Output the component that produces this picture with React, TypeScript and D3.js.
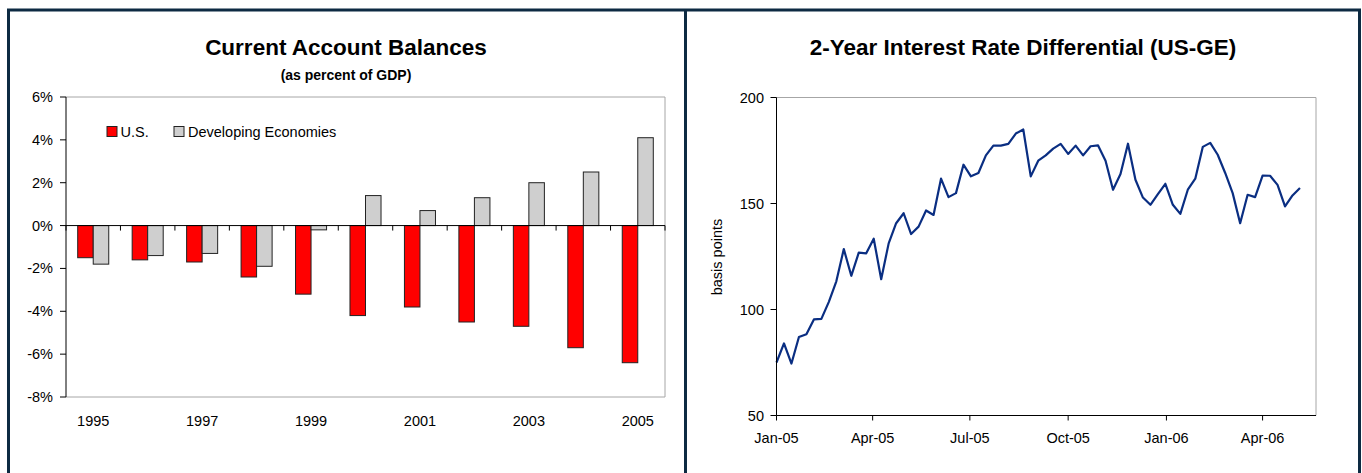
import * as d3 from "d3";

// left chart: current account balances, % of GDP
const years = ["1995", "1996", "1997", "1998", "1999", "2000", "2001", "2002", "2003", "2004", "2005"];
const usBalance = [-1.5, -1.6, -1.7, -2.4, -3.2, -4.2, -3.8, -4.5, -4.7, -5.7, -6.4];
const devBalance = [-1.8, -1.4, -1.3, -1.9, -0.2, 1.4, 0.7, 1.3, 2.0, 2.5, 4.1];
const yearLabels = ["1995", "1997", "1999", "2001", "2003", "2005"];
const pctTicks = [-8, -6, -4, -2, 0, 2, 4, 6];

// right chart: weekly 2-year differential, basis points
const spreadBp = [
  75, 84, 74.5, 87, 88.3, 95.3, 95.6, 103.6, 113.3, 128.5, 115.9, 126.8, 126.5, 133.4, 114.3, 131.2, 140.7, 145.4,
  135.6, 139.1, 146.7, 144.6, 161.7, 153, 154.9, 168.3, 162.8, 164.4, 172.7, 177.3, 177.3, 178.1, 183, 184.9,
  162.8, 170.2, 172.7, 175.9, 178.1, 173.4, 177.3, 172.7, 177, 177.4, 170.2, 156.5, 163.9, 178.2, 161.2, 152.8,
  149.4, 154.4, 159.3, 149.4, 145.1, 156.5, 161.7, 176.7, 178.6, 173, 164.4, 154.9, 140.7, 154.1, 153, 163.2,
  163.1, 158.8, 148.6, 153.8, 157.3,
];
const bpTicks = [50, 100, 150, 200];
const monthTicks = ["2005-01-01", "2005-04-01", "2005-07-01", "2005-10-01", "2006-01-01", "2006-04-01"];

const FONT = "'Liberation Sans', Arial, sans-serif";
const FRAME = "#0d2a42";
const BORDER = "#a6a6a6";

const LeftChart = () => {
  const left = 66, right = 665, top = 97, bottom = 397;
  const x = d3.scaleBand().domain(years).range([left, right]).paddingInner(0.43).paddingOuter(0.215);
  const x1 = d3.scaleBand().domain(["us", "dev"]).range([0, x.bandwidth()]);
  const y = d3.scaleLinear().domain([-8, 6]).range([bottom, top]);
  const step = x.step();
  const bounds = d3.range(years.length + 1).map((i) => left + i * step);

  const bar = (v: number, yr: string, key: string, fill: string) => {
    const x0 = (x(yr) ?? 0) + (x1(key) ?? 0);
    return (
      <rect key={key + yr} x={x0} y={Math.min(y(v), y(0))} width={x1.bandwidth()}
        height={Math.abs(y(v) - y(0))} fill={fill} stroke="#222" strokeWidth={1} />
    );
  };

  return (
    <g fontFamily={FONT}>
      <text x={346} y={55} textAnchor="middle" fontSize={22.5} fontWeight="bold">Current Account Balances</text>
      <text x={346} y={80} textAnchor="middle" fontSize={14} fontWeight="bold">(as percent of GDP)</text>

      <line x1={left} x2={right} y1={top} y2={top} stroke={BORDER} />
      <line x1={right} x2={right} y1={top} y2={bottom} stroke={BORDER} />
      <line x1={left} x2={right} y1={bottom} y2={bottom} stroke={BORDER} />

      {years.map((yr, i) => bar(usBalance[i], yr, "us", "#ff0000"))}
      {years.map((yr, i) => bar(devBalance[i], yr, "dev", "#cfcfcf"))}

      <line x1={left} x2={right} y1={y(0)} y2={y(0)} stroke="#000" />
      {bounds.map((bx) => (
        <line key={bx} x1={bx} x2={bx} y1={y(0)} y2={y(0) + 5} stroke="#000" />
      ))}
      <line x1={left} x2={left} y1={top} y2={bottom} stroke="#000" />
      {pctTicks.map((t) => (
        <g key={t}>
          <line x1={left - 6} x2={left} y1={y(t)} y2={y(t)} stroke="#000" />
          <text x={53} y={y(t) + 5} textAnchor="end" fontSize={14.5}>{t + "%"}</text>
        </g>
      ))}
      {yearLabels.map((yr) => (
        <text key={yr} x={(x(yr) ?? 0) + x.bandwidth() / 2} y={426} textAnchor="middle" fontSize={14.5}>{yr}</text>
      ))}

      <rect x={107} y={126.5} width={10} height={10} fill="#ff0000" stroke="#222" />
      <text x={120.5} y={136.5} fontSize={14.5}>U.S.</text>
      <rect x={174} y={126.5} width={10} height={10} fill="#cfcfcf" stroke="#222" />
      <text x={188} y={136.5} fontSize={14.5}>Developing Economies</text>
    </g>
  );
};

const RightChart = () => {
  const left = 776.5, right = 1316, top = 97.5, bottom = 415.5;
  const start = new Date(2005, 0, 1);
  const dates = spreadBp.map((_, i) => d3.timeDay.offset(start, 7 * i));
  const x = d3.scaleTime().domain([start, new Date(2006, 4, 21)]).range([left, right]);
  const y = d3.scaleLinear().domain([50, 200]).range([bottom, top]);
  const line = d3.line<number>().x((_, i) => x(dates[i])).y((d) => y(d));
  const fmt = d3.timeFormat("%b-%y");

  return (
    <g fontFamily={FONT}>
      <text x={1023} y={55} textAnchor="middle" fontSize={22.5} fontWeight="bold">2-Year Interest Rate Differential (US-GE)</text>

      <line x1={left} x2={right} y1={top} y2={top} stroke={BORDER} />
      <line x1={right} x2={right} y1={top} y2={bottom} stroke={BORDER} />

      <path d={line(spreadBp) ?? ""} fill="none" stroke="#0a2e82" strokeWidth={2.2} strokeLinejoin="round" />

      <line x1={left} x2={left} y1={top} y2={bottom} stroke="#000" />
      <line x1={left} x2={right} y1={bottom} y2={bottom} stroke="#000" />
      {bpTicks.map((t) => (
        <g key={t}>
          <line x1={left - 6} x2={left} y1={y(t)} y2={y(t)} stroke="#000" />
          <text x={764} y={y(t) + 5} textAnchor="end" fontSize={14.5}>{t}</text>
        </g>
      ))}
      {monthTicks.map((m) => {
        const d = d3.timeParse("%Y-%m-%d")(m) as Date;
        return (
          <g key={m}>
            <line x1={x(d)} x2={x(d)} y1={bottom} y2={bottom + 5} stroke="#000" />
            <text x={x(d)} y={443} textAnchor="middle" fontSize={14.5}>{fmt(d)}</text>
          </g>
        );
      })}
      <text transform="translate(722,257) rotate(-90)" textAnchor="middle" fontSize={14.5}>basis points</text>
    </g>
  );
};

export default function App() {
  return (
    <svg width={1362} height={473} style={{ position: "absolute", left: 0, top: 0, background: "#fff" }}>
      <rect x={0} y={0} width={1362} height={473} fill="#fff" />
      <line x1={7} x2={1361} y1={10} y2={10} stroke={FRAME} strokeWidth={3} />
      <line x1={8.5} x2={8.5} y1={10} y2={473} stroke={FRAME} strokeWidth={3} />
      <line x1={685.5} x2={685.5} y1={10} y2={473} stroke={FRAME} strokeWidth={3} />
      <line x1={1359.5} x2={1359.5} y1={10} y2={473} stroke={FRAME} strokeWidth={3} />
      <LeftChart />
      <RightChart />
    </svg>
  );
}
